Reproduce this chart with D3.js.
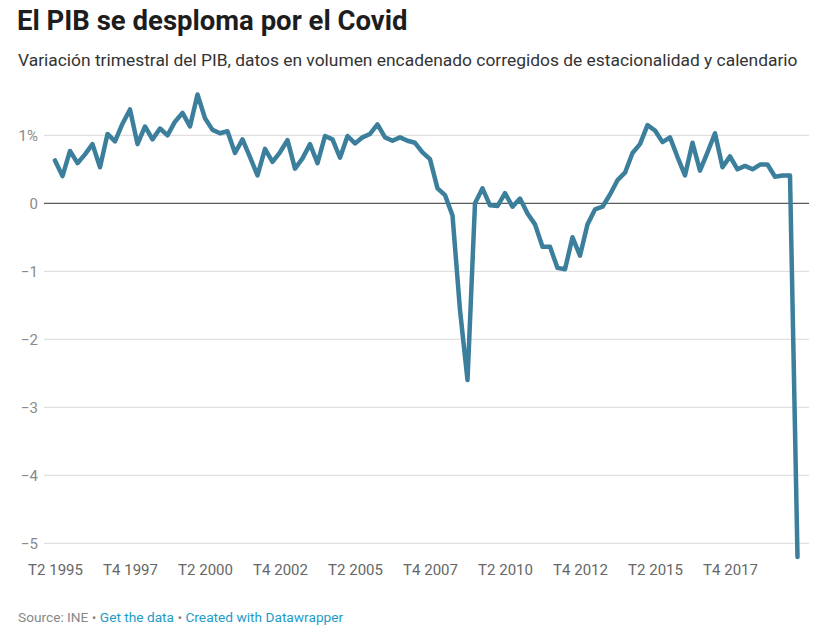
<!DOCTYPE html>
<html>
<head>
<meta charset="utf-8">
<script src="https://cdn.jsdelivr.net/npm/d3@7"></script>
<style>
  body { margin: 0; background: #fff; font-family: Roboto, sans-serif; }
  svg text { font-family: Roboto, sans-serif; }
</style>
</head>
<body>
<div id="chart"></div>
<script>
// quarterly GDP change (%), T2 1995 .. T1 2020
var values = [
  0.63, 0.40, 0.77, 0.59, 0.72, 0.87, 0.53, 1.02, 0.91, 1.17,
  1.38, 0.87, 1.13, 0.94, 1.10, 1.00, 1.20, 1.33, 1.13, 1.60,
  1.25, 1.08, 1.03, 1.06, 0.74, 0.94, 0.68, 0.41, 0.80, 0.61,
  0.75, 0.93, 0.51, 0.66, 0.87, 0.59, 0.99, 0.94, 0.67, 0.99,
  0.88, 0.97, 1.02, 1.16, 0.97, 0.92, 0.97, 0.92, 0.89, 0.75,
  0.65, 0.22, 0.12, -0.18, -1.57, -2.60, 0.00, 0.22, -0.03, -0.04,
  0.15, -0.05, 0.07, -0.15, -0.31, -0.64, -0.64, -0.95, -0.97, -0.50,
  -0.77, -0.31, -0.09, -0.05, 0.13, 0.34, 0.45, 0.74, 0.87, 1.15,
  1.07, 0.90, 0.97, 0.68, 0.41, 0.89, 0.48, 0.75, 1.03, 0.53,
  0.69, 0.50, 0.55, 0.50, 0.57, 0.57, 0.39, 0.41, 0.41, -5.20
];

var startYear = 1995, startQ = 2;
var quarters = values.map(function(d, i) {
  var k = startQ - 1 + i;
  return "T" + (k % 4 + 1) + " " + (startYear + Math.floor(k / 4));
});

var xTickLabels = ["T2 1995", "T4 1997", "T2 2000", "T4 2002", "T2 2005",
                   "T4 2007", "T2 2010", "T4 2012", "T2 2015", "T4 2017"];
var yTicks = [1, 0, -1, -2, -3, -4, -5];
var yTickLabels = ["1%", "0", "\u22121", "\u22122", "\u22123", "\u22124", "\u22125"];

var width = 821, height = 633;

var svg = d3.select("#chart")
  .append("svg")
    .attr("width", width)
    .attr("height", height);

// title + subtitle
svg.append("text")
  .attr("x", 17).attr("y", 30)
  .attr("font-size", 27.5).attr("font-weight", 700)
  .attr("fill", "#1d1d1d")
  .text("El PIB se desploma por el Covid");

svg.append("text")
  .attr("x", 18).attr("y", 66)
  .attr("font-size", 17.4)
  .attr("fill", "#333")
  .text("Variación trimestral del PIB, datos en volumen encadenado corregidos de estacionalidad y calendario");

var x = d3.scalePoint()
  .domain(quarters)
  .range([55, 797.5]);

var y = d3.scaleLinear()
  .domain([-5, 1])
  .range([543.3, 135.3]);

// gridlines
var grid = svg.append("g");
grid.selectAll("line")
  .data(yTicks)
  .enter()
  .append("line")
    .attr("x1", 44).attr("x2", 809)
    .attr("y1", function(d) { return y(d); })
    .attr("y2", function(d) { return y(d); })
    .attr("stroke", function(d) { return d === 0 ? "#333" : "#d9d9d9"; })
    .attr("stroke-width", 1);

grid.selectAll("text")
  .data(yTicks)
  .enter()
  .append("text")
    .attr("x", 38)
    .attr("y", function(d) { return y(d); })
    .attr("dy", "0.35em")
    .attr("text-anchor", "end")
    .attr("font-size", 15)
    .attr("fill", "#8a8a8a")
    .text(function(d, i) { return yTickLabels[i]; });

// x axis labels
var xAxis = d3.axisBottom(x)
  .tickValues(xTickLabels)
  .tickSize(0)
  .tickPadding(0);

svg.append("g")
  .attr("transform", "translate(0,564)")
  .call(xAxis)
  .call(function(g) { g.select(".domain").remove(); })
  .selectAll("text")
    .attr("font-size", 15)
    .attr("fill", "#666")
    .attr("dy", "0.71em");

// line
var line = d3.line()
  .x(function(d, i) { return x(quarters[i]); })
  .y(function(d) { return y(d); });

svg.append("path")
  .datum(values)
  .attr("d", line)
  .attr("fill", "none")
  .attr("stroke", "#3b7f9c")
  .attr("stroke-width", 4.5)
  .attr("stroke-linejoin", "round")
  .attr("stroke-linecap", "round");

// footer
var foot = svg.append("text")
  .attr("x", 18).attr("y", 622)
  .attr("font-size", 13.7);
foot.append("tspan").attr("fill", "#888").text("Source: INE • ");
foot.append("tspan").attr("fill", "#1d9bc6").text("Get the data");
foot.append("tspan").attr("fill", "#888").text(" • ");
foot.append("tspan").attr("fill", "#1d9bc6").text("Created with Datawrapper");
</script>
</body>
</html>
